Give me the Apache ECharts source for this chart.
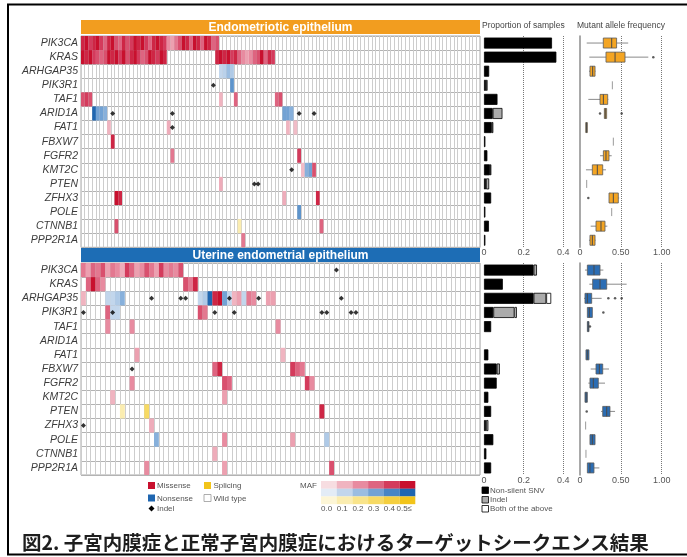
<!DOCTYPE html>
<html>
<head>
<meta charset="utf-8">
<script src="https://cdn.jsdelivr.net/npm/echarts@6/dist/echarts.min.js"></script>
<style>
html,body{margin:0;padding:0;background:#fff;}
#chart{width:687px;height:557px;}
</style>
</head>
<body>
<div id="chart"></div>
<script>
// Genes shown in both oncoprint panels (top to bottom)
const genes = ['PIK3CA','KRAS','ARHGAP35','PIK3R1','TAF1','ARID1A','FAT1','FBXW7','FGFR2','KMT2C','PTEN','ZFHX3','POLE','CTNNB1','PPP2R1A'];
const endoSampleCount = 107;
const uterineSampleCount = 82;

// Mutation kinds: M = missense, N = nonsense, S = splicing
const kinds = ['M','N','S'];

// Runs of mutated samples: [gene, first sample index, kind, MAF of each consecutive sample]
const endoRuns = [
  ['PIK3CA', 0, 'M', [0.45,0.5,0.4,0.45,0.5,0.4,0.3,0.45,0.5,0.35,0.3,0.45,0.35,0.4,0.5,0.45,0.5,0.4,0.3,0.45,0.5,0.45,0.4,0.2,0.15,0.25,0.35,0.5,0.45,0.3,0.5,0.45,0.3,0.5,0.45,0.3,0.35]],
  ['KRAS', 0, 'M', [0.5,0.45,0.5,0.4,0.35,0.3,0.35,0.5,0.45,0.5,0.4,0.5,0.35,0.45,0.5,0.4,0.3,0.35,0.5,0.45,0.4,0.5,0.45]],
  ['KRAS', 36, 'M', [0.45,0.5,0.45,0.5,0.4,0.45,0.3,0.2,0.15,0.2,0.3,0.35,0.5,0.3,0.45,0.4]],
  ['ARHGAP35', 37, 'N', [0.1,0.12,0.2,0.15]],
  ['PIK3R1', 40, 'N', [0.35]],
  ['TAF1', 0, 'M', [0.35,0.4,0.35]],
  ['TAF1', 37, 'M', [0.1]],
  ['TAF1', 41, 'M', [0.3]],
  ['TAF1', 52, 'M', [0.3,0.35]],
  ['ARID1A', 3, 'N', [0.5,0.3,0.3,0.25]],
  ['ARID1A', 54, 'N', [0.3,0.3,0.25]],
  ['FAT1', 7, 'M', [0.1]],
  ['FAT1', 23, 'M', [0.12]],
  ['FAT1', 55, 'M', [0.1]],
  ['FAT1', 57, 'M', [0.08]],
  ['FBXW7', 8, 'M', [0.45]],
  ['FGFR2', 24, 'M', [0.25]],
  ['FGFR2', 58, 'M', [0.4]],
  ['KMT2C', 59, 'M', [0.08]],
  ['KMT2C', 60, 'N', [0.25,0.3]],
  ['KMT2C', 62, 'M', [0.35]],
  ['PTEN', 37, 'M', [0.12]],
  ['ZFHX3', 9, 'M', [0.5,0.45]],
  ['ZFHX3', 54, 'M', [0.12]],
  ['ZFHX3', 63, 'M', [0.45]],
  ['POLE', 58, 'N', [0.35]],
  ['CTNNB1', 9, 'M', [0.35]],
  ['CTNNB1', 42, 'S', [0.1]],
  ['CTNNB1', 64, 'M', [0.3]],
  ['PPP2R1A', 43, 'M', [0.25]]
];
// Indels: [gene, sample index]
const endoIndels = [['PIK3R1',35],['ARID1A',8],['ARID1A',24],['ARID1A',58],['ARID1A',62],['FAT1',24],['KMT2C',56],['PTEN',46],['PTEN',47]];

const uterineRuns = [
  ['PIK3CA', 0, 'M', [0.25,0.15,0.3,0.25,0.35,0.15,0.25,0.2,0.12,0.4,0.3,0.15,0.2,0.35,0.25,0.15,0.4,0.2,0.25,0.2,0.35]],
  ['KRAS', 1, 'M', [0.3,0.5,0.3,0.2]],
  ['KRAS', 21, 'M', [0.35,0.25,0.45]],
  ['ARHGAP35', 0, 'M', [0.1]],
  ['ARHGAP35', 5, 'N', [0.1,0.1,0.15,0.25]],
  ['ARHGAP35', 24, 'N', [0.1,0.15,0.5]],
  ['ARHGAP35', 27, 'M', [0.45,0.5]],
  ['ARHGAP35', 29, 'N', [0.3,0.1]],
  ['ARHGAP35', 31, 'M', [0.1,0.15]],
  ['ARHGAP35', 33, 'N', [0.1]],
  ['ARHGAP35', 34, 'M', [0.25,0.2]],
  ['ARHGAP35', 38, 'M', [0.15,0.15]],
  ['PIK3R1', 5, 'M', [0.3]],
  ['PIK3R1', 6, 'N', [0.1,0.1]],
  ['PIK3R1', 24, 'M', [0.35,0.25]],
  ['TAF1', 5, 'M', [0.2]],
  ['TAF1', 10, 'M', [0.2]],
  ['TAF1', 40, 'M', [0.2]],
  ['FAT1', 11, 'M', [0.15]],
  ['FAT1', 41, 'M', [0.1]],
  ['FBXW7', 27, 'M', [0.3,0.45]],
  ['FBXW7', 43, 'M', [0.4,0.3,0.25]],
  ['FGFR2', 10, 'M', [0.2]],
  ['FGFR2', 29, 'M', [0.35,0.3]],
  ['FGFR2', 46, 'M', [0.4,0.2]],
  ['KMT2C', 6, 'M', [0.1]],
  ['KMT2C', 29, 'M', [0.15]],
  ['PTEN', 8, 'S', [0.1]],
  ['PTEN', 13, 'S', [0.3]],
  ['PTEN', 49, 'M', [0.45]],
  ['ZFHX3', 14, 'M', [0.12]],
  ['POLE', 15, 'N', [0.25]],
  ['POLE', 29, 'M', [0.2]],
  ['POLE', 43, 'M', [0.15]],
  ['POLE', 50, 'N', [0.15]],
  ['CTNNB1', 27, 'M', [0.12]],
  ['PPP2R1A', 13, 'M', [0.2]],
  ['PPP2R1A', 29, 'M', [0.15]],
  ['PPP2R1A', 51, 'M', [0.35]]
];
const uterineIndels = [['PIK3CA',52],['ARHGAP35',14],['ARHGAP35',20],['ARHGAP35',21],['ARHGAP35',30],['ARHGAP35',36],['ARHGAP35',53],
  ['PIK3R1',0],['PIK3R1',6],['PIK3R1',27],['PIK3R1',31],['PIK3R1',49],['PIK3R1',50],['PIK3R1',55],['PIK3R1',56],['FBXW7',10],['ZFHX3',0]];

// Proportion of samples, per gene (stacked segments)
const endoSnv   = [0.343,0.365,0.026,0.010,0.068,0.044,0.039,0.007,0.017,0.030,0.010,0.036,0.007,0.025,0.007];
const endoIndel = [0,0,0,0.008,0,0.049,0.008,0,0,0.007,0.016,0,0,0,0];
const endoBoth  = [0,0,0,0,0,0,0,0,0,0,0,0,0,0,0];
const uterineSnv   = [0.250,0.095,0.250,0.047,0.036,0,0.022,0.064,0.064,0.022,0.036,0.010,0.047,0.012,0.036];
const uterineIndel = [0.017,0,0.064,0.107,0,0,0,0.016,0,0,0,0.012,0,0,0];
const uterineBoth  = [0,0,0.025,0.012,0,0,0,0,0,0,0,0,0,0,0];

// Mutant allele frequency boxes: [gene, min, Q1, median, Q3, max]
const endoMaf = [
  ['PIK3CA',  0.082,0.285,0.388,0.448,0.590],
  ['KRAS',    0.114,0.318,0.429,0.551,0.836],
  ['ARHGAP35',0.110,0.122,0.155,0.184,0.190],
  ['PIK3R1',  0.396,0.396,0.396,0.396,0.396],
  ['TAF1',    0.102,0.245,0.286,0.339,0.347],
  ['ARID1A',  0.298,0.298,0.310,0.326,0.326],
  ['FAT1',    0.070,0.070,0.080,0.090,0.090],
  ['FBXW7',   0.408,0.408,0.408,0.408,0.408],
  ['FGFR2',   0.245,0.286,0.318,0.355,0.388],
  ['KMT2C',   0.073,0.151,0.212,0.278,0.318],
  ['PTEN',    0.082,0.082,0.082,0.082,0.082],
  ['ZFHX3',   0.355,0.355,0.408,0.469,0.480],
  ['POLE',    0.388,0.388,0.388,0.388,0.388],
  ['CTNNB1',  0.131,0.196,0.257,0.306,0.335],
  ['PPP2R1A', 0.110,0.122,0.151,0.184,0.190]
];
const endoMafOutliers = [['KRAS',0.897],['ARID1A',0.245],['ARID1A',0.510],['ZFHX3',0.102]];
const uterineMaf = [
  ['PIK3CA',  0.061,0.090,0.171,0.245,0.286],
  ['KRAS',    0.114,0.155,0.245,0.327,0.571],
  ['ARHGAP35',0.049,0.061,0.090,0.143,0.265],
  ['PIK3R1',  0.090,0.090,0.114,0.151,0.151],
  ['TAF1',    0.090,0.090,0.100,0.110,0.110],
  ['FAT1',    0.073,0.073,0.090,0.110,0.110],
  ['FBXW7',   0.131,0.196,0.237,0.278,0.355],
  ['FGFR2',   0.102,0.122,0.163,0.224,0.306],
  ['KMT2C',   0.061,0.061,0.075,0.090,0.090],
  ['PTEN',    0.257,0.278,0.327,0.367,0.429],
  ['ZFHX3',   0.069,0.069,0.069,0.069,0.069],
  ['POLE',    0.122,0.122,0.151,0.184,0.184],
  ['CTNNB1',  0.073,0.073,0.073,0.073,0.073],
  ['PPP2R1A', 0.090,0.090,0.122,0.171,0.237]
];
const uterineMafOutliers = [['ARHGAP35',0.347],['ARHGAP35',0.429],['ARHGAP35',0.510],['PIK3R1',0.286],['TAF1',0.122],['PTEN',0.082]];

// Axis tick labels
const propTicks = {min: 0, max: 0.4, step: 0.2};
const mafTicks = {min: 0, max: 1, step: 0.5};
const mafLegendLabels = ['0.0','0.1','0.2','0.3','0.4','0.5\u2264'];

// Colour ramps for MAF 0 -> 0.5 (missense / nonsense / splicing)
const mafPalette = [
  ['#f7dde1','#f0b4c0','#e88ba0','#de6480','#d43b5c','#c8102e'],
  ['#e3ecf6','#c2d6ec','#9bbde1','#72a2d4','#4885c4','#1f66b0'],
  ['#fdf6d6','#fbedb0','#f9e48a','#f7da64','#f5cf3f','#f2c41a']
];

function hexToRgb(h) { return [parseInt(h.slice(1,3),16), parseInt(h.slice(3,5),16), parseInt(h.slice(5,7),16)]; }
function mafColor(kindIdx, maf) {
  const stops = mafPalette[kindIdx];
  const t = Math.max(0, Math.min(1, maf / 0.5)) * (stops.length - 1);
  const i = Math.min(stops.length - 2, Math.floor(t));
  const f = t - i;
  const a = hexToRgb(stops[i]), b = hexToRgb(stops[i + 1]);
  return 'rgb(' + a.map((v, k) => Math.round(v + (b[k] - v) * f)).join(',') + ')';
}
function expandRuns(runs) {
  const out = [];
  runs.forEach(([gene, start, kind, mafs]) => {
    mafs.forEach((m, k) => out.push([start + k, genes.indexOf(gene), kinds.indexOf(kind), m]));
  });
  return out;
}
const indelPoints = list => list.map(([g, s]) => [s, genes.indexOf(g)]);
const outlierPoints = list => list.map(([g, v]) => [v, genes.indexOf(g)]);
const boxRows = list => list.map(([g, ...five]) => [genes.indexOf(g), ...five]);
const sampleNames = n => Array.from({length: n}, (_, i) => 'S' + (i + 1));
// empty segments are skipped so they leave no outline behind
const skipEmpty = arr => arr.map(v => (v > 0 ? v : '-'));

const FONT = "'Liberation Sans', Arial, sans-serif";
const GRID_X = 81, GRID_W = 399;
const TOP_Y = 36, TOP_H = 211.3, BOT_Y = 263, BOT_H = 212;

function cellRenderer(params, api) {
  const c = api.coord([api.value(0), api.value(1)]);
  const s = api.size([1, 1]);
  return {
    type: 'rect',
    shape: {x: c[0] - s[0] / 2, y: c[1] - s[1] / 2, width: s[0], height: s[1]},
    style: {fill: mafColor(api.value(2), api.value(3))}
  };
}

// Horizontal box-and-whisker drawn on (value, gene) coordinates, no whisker caps
function boxRenderer(fill) {
  return function (params, api) {
    const row = api.value(0);
    const p = [1, 2, 3, 4, 5].map(d => api.coord([api.value(d), row]));
    const y = p[0][1], h = 10;
    const children = [];
    if (p[4][0] - p[0][0] < 0.5) {
      children.push({type: 'line', shape: {x1: p[2][0], y1: y - 4, x2: p[2][0], y2: y + 4}, style: {stroke: '#9a9a9a', lineWidth: 1}});
    } else {
      children.push({type: 'line', shape: {x1: p[0][0], y1: y, x2: p[1][0], y2: y}, style: {stroke: '#8a8a8a', lineWidth: 1}});
      children.push({type: 'line', shape: {x1: p[3][0], y1: y, x2: p[4][0], y2: y}, style: {stroke: '#8a8a8a', lineWidth: 1}});
      children.push({type: 'rect', shape: {x: p[1][0], y: y - h / 2, width: Math.max(1.5, p[3][0] - p[1][0]), height: h},
        style: {fill: fill, stroke: '#5a5a5a', lineWidth: 0.8}});
      children.push({type: 'line', shape: {x1: p[2][0], y1: y - h / 2, x2: p[2][0], y2: y + h / 2}, style: {stroke: '#4a4a4a', lineWidth: 1}});
    }
    return {type: 'group', children: children};
  };
}

function heatX(gi, n) {
  return {type: 'category', gridIndex: gi, data: sampleNames(n), boundaryGap: true,
    axisLine: {show: false}, axisTick: {show: false}, axisLabel: {show: false},
    splitLine: {show: true, interval: 0, lineStyle: {color: '#cdcdcd', width: 1}}};
}
function heatY(gi) {
  return {type: 'category', gridIndex: gi, data: genes, inverse: true,
    axisLine: {show: false}, axisTick: {show: false},
    axisLabel: {interval: 0, fontStyle: 'italic', fontSize: 10.5, color: '#3c3c3c', margin: 3, fontFamily: FONT},
    splitLine: {show: true, interval: 0, lineStyle: {color: '#b3b3b3', width: 1}}};
}
function valueX(gi, t, fmt) {
  return {type: 'value', gridIndex: gi, min: t.min, max: t.max, interval: t.step,
    axisLine: {show: false}, axisTick: {show: false},
    axisLabel: {fontSize: 9, color: '#555', margin: 1, fontFamily: FONT, formatter: fmt},
    splitLine: {show: true, lineStyle: {type: 'dotted', width: 1, color: ['rgba(0,0,0,0)', '#777', '#777']}}};
}
function plainY(gi, showLine) {
  return {type: 'category', gridIndex: gi, data: genes, inverse: true,
    axisLine: {show: showLine, lineStyle: {color: '#8c8c8c', width: 1.5}},
    axisTick: {show: false}, axisLabel: {show: false}, splitLine: {show: false}};
}
const propFmt = v => (v === 0 ? '0' : String(v));
const mafFmt = v => (v === 0 ? '0' : v.toFixed(2));

function barSeries(ax, stack, snv, indel, both) {
  const common = {type: 'bar', xAxisIndex: ax, yAxisIndex: ax, stack: stack, barWidth: 11};
  return [
    Object.assign({name: 'Non-silent SNV', data: skipEmpty(snv), itemStyle: {color: '#000', borderColor: '#000', borderWidth: 0.8}}, common),
    Object.assign({name: 'Indel', data: skipEmpty(indel), itemStyle: {color: '#ababab', borderColor: '#000', borderWidth: 0.8}}, common),
    Object.assign({name: 'Both of the above', data: skipEmpty(both), itemStyle: {color: '#fff', borderColor: '#000', borderWidth: 0.8}}, common)
  ];
}

const legendText = (x, y, t) => ({type: 'text', style: {text: t, x: x, y: y, fill: '#555', font: '8px ' + FONT,
  textAlign: 'left', align: 'left', textVerticalAlign: 'middle', verticalAlign: 'middle'}});
const legendBox = (x, y, fill, stroke) => ({type: 'rect', shape: {x: x, y: y, width: 7, height: 7},
  style: {fill: fill, stroke: stroke || null, lineWidth: stroke ? 0.8 : 0}});

const graphics = [
  {type: 'rect', shape: {x: 8, y: 4.5, width: 700, height: 550}, style: {fill: null, stroke: '#000', lineWidth: 2}, z: 100},
  {type: 'rect', shape: {x: GRID_X, y: 20, width: GRID_W, height: 14}, style: {fill: '#f29d1f'}},
  {type: 'text', style: {text: 'Endometriotic epithelium', x: GRID_X + GRID_W / 2, y: 27.5, fill: '#fff', font: 'bold 12px ' + FONT,
    textAlign: 'center', align: 'center', textVerticalAlign: 'middle', verticalAlign: 'middle'}},
  {type: 'rect', shape: {x: GRID_X, y: 248, width: GRID_W, height: 14}, style: {fill: '#1d6db5'}},
  {type: 'text', style: {text: 'Uterine endometrial epithelium', x: GRID_X + GRID_W / 2, y: 255.5, fill: '#fff', font: 'bold 12px ' + FONT,
    textAlign: 'center', align: 'center', textVerticalAlign: 'middle', verticalAlign: 'middle'}},
  {type: 'text', style: {text: 'Proportion of samples', x: 482, y: 26, fill: '#444', font: '8.5px ' + FONT,
    textAlign: 'left', align: 'left', textVerticalAlign: 'middle', verticalAlign: 'middle'}},
  {type: 'text', style: {text: 'Mutant allele frequency', x: 577, y: 26, fill: '#444', font: '8.5px ' + FONT,
    textAlign: 'left', align: 'left', textVerticalAlign: 'middle', verticalAlign: 'middle'}},
  // mutation-type legend
  legendBox(148, 482, mafPalette[0][5]), legendText(157, 486, 'Missense'),
  legendBox(148, 494.5, mafPalette[1][5]), legendText(157, 498.5, 'Nonsense'),
  {type: 'polygon', shape: {points: [[151.5, 505.5], [154.5, 508.5], [151.5, 511.5], [148.5, 508.5]]}, style: {fill: '#000'}},
  legendText(157, 509, 'Indel'),
  legendBox(204, 482, mafPalette[2][5]), legendText(213.5, 486, 'Splicing'),
  legendBox(204, 494.5, '#fff', '#999'), legendText(213.5, 498.5, 'Wild type'),
  legendText(300, 486, 'MAF'),
  // proportion legend
  {type: 'rect', shape: {x: 482, y: 487, width: 6.5, height: 6.5}, style: {fill: '#000', stroke: '#000', lineWidth: 0.8}},
  legendText(490, 490.5, 'Non-silent SNV'),
  {type: 'rect', shape: {x: 482, y: 496.5, width: 6.5, height: 6.5}, style: {fill: '#ababab', stroke: '#000', lineWidth: 0.8}},
  legendText(490, 500, 'Indel'),
  {type: 'rect', shape: {x: 482, y: 505.5, width: 6.5, height: 6.5}, style: {fill: '#fff', stroke: '#000', lineWidth: 0.8}},
  legendText(490, 509, 'Both of the above'),
  // caption
  {type: 'text', style: {text: '図2. 子宮内膜症と正常子宮内膜症におけるターゲットシークエンス結果', x: 22, y: 543,
    fill: '#1e1e1e', font: "bold 19.5px 'Noto Sans CJK JP', sans-serif",
    textAlign: 'left', align: 'left', textVerticalAlign: 'middle', verticalAlign: 'middle'}}
];
// MAF colour key: one row per mutation kind, one block per step
mafPalette.forEach((row, r) => {
  row.forEach((c, k) => {
    graphics.push({type: 'rect', shape: {x: 321 + k * 15.7, y: 481 + r * 7.7, width: 15.8, height: 7.8}, style: {fill: c}});
  });
});
mafLegendLabels.forEach((t, k) => graphics.push(legendText(321 + k * 15.7 - (k === 5 ? 3 : 0), 509, t)));

const option = {
  animation: false,
  backgroundColor: '#fff',
  textStyle: {fontFamily: FONT},
  grid: [
    {left: GRID_X, top: TOP_Y, width: GRID_W, height: TOP_H, show: true, borderColor: '#a8a8a8', borderWidth: 1, backgroundColor: 'transparent'},
    {left: GRID_X, top: BOT_Y, width: GRID_W, height: BOT_H, show: true, borderColor: '#a8a8a8', borderWidth: 1, backgroundColor: 'transparent'},
    {left: 484, top: TOP_Y, width: 79.3, height: TOP_H},
    {left: 484, top: BOT_Y, width: 79.3, height: BOT_H},
    {left: 580, top: TOP_Y, width: 81.7, height: TOP_H},
    {left: 580, top: BOT_Y, width: 81.7, height: BOT_H}
  ],
  xAxis: [
    heatX(0, endoSampleCount), heatX(1, uterineSampleCount),
    valueX(2, propTicks, propFmt), valueX(3, propTicks, propFmt),
    valueX(4, mafTicks, mafFmt), valueX(5, mafTicks, mafFmt)
  ],
  yAxis: [heatY(0), heatY(1), plainY(2, false), plainY(3, false), plainY(4, true), plainY(5, true)],
  series: [
    {type: 'custom', xAxisIndex: 0, yAxisIndex: 0, renderItem: cellRenderer, data: expandRuns(endoRuns), encode: {x: 0, y: 1}},
    {type: 'custom', xAxisIndex: 1, yAxisIndex: 1, renderItem: cellRenderer, data: expandRuns(uterineRuns), encode: {x: 0, y: 1}},
    {type: 'scatter', xAxisIndex: 0, yAxisIndex: 0, symbol: 'diamond', symbolSize: 5, itemStyle: {color: '#000'}, data: indelPoints(endoIndels), z: 5},
    {type: 'scatter', xAxisIndex: 1, yAxisIndex: 1, symbol: 'diamond', symbolSize: 5, itemStyle: {color: '#000'}, data: indelPoints(uterineIndels), z: 5},
    ...barSeries(2, 'endo', endoSnv, endoIndel, endoBoth),
    ...barSeries(3, 'uterine', uterineSnv, uterineIndel, uterineBoth),
    {type: 'custom', xAxisIndex: 4, yAxisIndex: 4, renderItem: boxRenderer('#f4a523'), data: boxRows(endoMaf),
      encode: {x: [1, 2, 3, 4, 5], y: 0}},
    {type: 'custom', xAxisIndex: 5, yAxisIndex: 5, renderItem: boxRenderer('#2b6db4'), data: boxRows(uterineMaf),
      encode: {x: [1, 2, 3, 4, 5], y: 0}},
    {type: 'scatter', xAxisIndex: 4, yAxisIndex: 4, symbolSize: 2.5, itemStyle: {color: '#333'}, data: outlierPoints(endoMafOutliers)},
    {type: 'scatter', xAxisIndex: 5, yAxisIndex: 5, symbolSize: 2.5, itemStyle: {color: '#333'}, data: outlierPoints(uterineMafOutliers)}
  ],
  graphic: graphics
};

const chart = echarts.init(document.getElementById('chart'), null, {renderer: 'canvas'});
chart.setOption(option);
</script>
</body>
</html>
